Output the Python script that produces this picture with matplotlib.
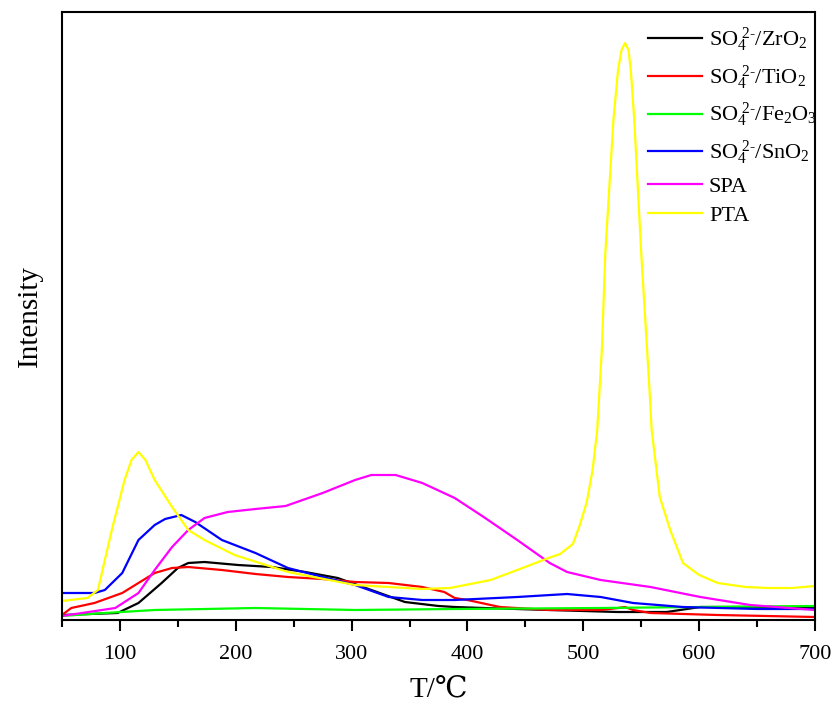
import matplotlib
matplotlib.use("Agg")
import matplotlib.pyplot as plt
from matplotlib.ticker import MultipleLocator, NullLocator

plt.rcParams['font.family'] = ['Liberation Serif', 'DejaVu Serif', 'DejaVu Sans']
plt.rcParams['mathtext.fontset'] = 'custom'
plt.rcParams['mathtext.rm'] = 'Liberation Serif'
plt.rcParams['mathtext.it'] = 'Liberation Serif:italic'

# temperature (deg C) / intensity (arb. units)
zr_x = [50, 98, 116, 136, 150, 159, 173, 202, 231, 260, 288, 317, 346, 375, 389, 414, 471, 529, 572, 601, 650, 700]
zr_y = [5, 7, 17, 37, 52, 57, 58, 55, 53, 48, 42, 30, 18, 14, 13, 12, 10, 8, 8, 13, 13, 13]

ti_x = [50, 58, 78, 102, 116, 130, 145, 159, 188, 217, 245, 275, 303, 332, 361, 380, 389, 400, 428, 471, 515, 530, 536, 543, 558, 616, 700]
ti_y = [5, 12, 17, 27, 37, 47, 52, 53, 50, 46, 43, 41, 38, 37, 33, 28, 22, 20, 13, 10, 10, 12, 13, 10, 7, 5, 3]

fe_x = [50, 87, 130, 217, 303, 389, 515, 600, 700]
fe_y = [4, 7, 10, 12, 10, 11, 12, 13, 14]

sn_x = [50, 78, 87, 102, 116, 130, 139, 153, 165, 188, 217, 245, 275, 303, 332, 361, 389, 443, 486, 515, 543, 586, 650, 700]
sn_y = [27, 27, 30, 47, 80, 95, 101, 105, 98, 80, 67, 52, 43, 35, 23, 20, 20, 23, 26, 23, 17, 13, 11, 11]

spa_x = [50, 73, 96, 116, 130, 145, 159, 173, 193, 217, 243, 275, 303, 317, 338, 361, 389, 414, 443, 471, 486, 515, 558, 601, 644, 700]
spa_y = [4, 8, 12, 27, 50, 73, 90, 102, 108, 111, 114, 127, 140, 145, 145, 137, 122, 103, 80, 57, 48, 40, 33, 23, 15, 10]

pta_x = [50, 72, 81, 93, 104, 110, 116, 122, 130, 145, 159, 173, 199, 245, 303, 361, 385, 420, 443, 470, 480, 491, 497, 503,
         508, 512, 516, 519, 526, 530, 533, 536, 539, 541, 544, 550, 557, 559, 566, 575, 586, 600, 616, 640, 659, 680, 700]
pta_y = [19, 22, 30, 90, 140, 160, 168, 160, 140, 113, 90, 80, 65, 48, 35, 31, 32, 40, 50, 62, 66, 76, 95, 118,
         150, 190, 270, 367, 500, 550, 570, 577, 570, 550, 500, 367, 233, 190, 123, 90, 57, 45, 37, 33, 32, 32, 34]

series = [
    (zr_x, zr_y, 'black', r'$\mathrm{SO_4^{\ 2\text{-}}/ZrO_2}$'),
    (ti_x, ti_y, '#ff0000', r'$\mathrm{SO_4^{\ 2\text{-}}/TiO_2}$'),
    (fe_x, fe_y, '#00ff00', r'$\mathrm{SO_4^{\ 2\text{-}}/Fe_2O_3}$'),
    (sn_x, sn_y, '#0000ff', r'$\mathrm{SO_4^{\ 2\text{-}}/SnO_2}$'),
    (spa_x, spa_y, '#ff00ff', 'SPA'),
    (pta_x, pta_y, '#ffff00', 'PTA'),
]

fig = plt.figure(figsize=(8.33, 7.06), dpi=100)
ax = fig.add_axes([62 / 833, 86 / 706, 753 / 833, 608 / 706])

for x, y, c, lab in series:
    ax.plot(x, y, color=c, lw=1.6, label=lab)

ax.set_xlim(50, 700)
ax.set_ylim(0, 608)
ax.xaxis.set_major_locator(MultipleLocator(100))
ax.xaxis.set_minor_locator(MultipleLocator(50))
ax.yaxis.set_major_locator(NullLocator())
ax.tick_params(axis='x', which='major', direction='out', length=8, width=1.5, labelsize=16, pad=10)
ax.tick_params(axis='x', which='minor', direction='out', length=5, width=1.5)
for s in ax.spines.values():
    s.set_linewidth(1.5)

ax.set_xlabel('T/℃', fontsize=21, labelpad=10)
ax.set_ylabel('Intensity', fontsize=21, labelpad=14)

leg = ax.legend(loc='upper left', bbox_to_anchor=(0.778, 0.978), frameon=False, fontsize=16,
                handlelength=2.45, handletextpad=0.3, borderpad=0, borderaxespad=0, labelspacing=0.4)
for t in leg.get_texts():
    t.set_clip_path(ax.patch)

fig.savefig('out.png', dpi=100)
